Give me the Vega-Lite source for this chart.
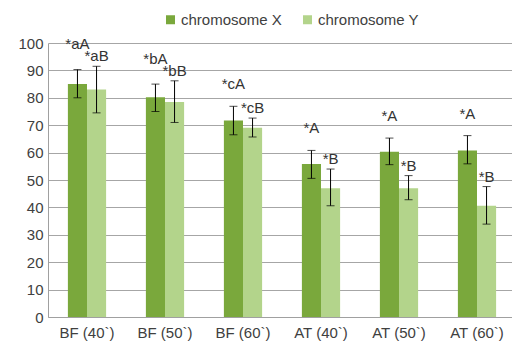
{
  "$schema": "https://vega.github.io/schema/vega-lite/v6.json",
  "width": 464,
  "height": 274,
  "autosize": {"type": "none"},
  "padding": {"left": 48, "top": 43, "right": 0, "bottom": 30},
  "background": "white",
  "config": {
    "font": "Liberation Sans",
    "view": {"stroke": null},
    "axis": {"labelColor": "#404040", "labelFontSize": 15, "domainColor": "#a0a0a0", "gridColor": "#a6a6a6", "ticks": false, "title": null},
    "axisY": {"tickCount": 10, "labelOverlap": false, "labelPadding": 5, "grid": true}
  },
  "data": {
    "values": [
      {"group": "BF (40`)", "chromosome": "chromosome X", "value": 85.0, "lo": 80.0, "hi": 90.3, "label": "*aA"},
      {"group": "BF (40`)", "chromosome": "chromosome Y", "value": 83.0, "lo": 74.5, "hi": 91.5, "label": "*aB"},
      {"group": "BF (50`)", "chromosome": "chromosome X", "value": 80.2, "lo": 75.0, "hi": 85.0, "label": "*bA"},
      {"group": "BF (50`)", "chromosome": "chromosome Y", "value": 78.5, "lo": 71.0, "hi": 86.2, "label": "*bB"},
      {"group": "BF (60`)", "chromosome": "chromosome X", "value": 71.7, "lo": 66.5, "hi": 76.9, "label": "*cA"},
      {"group": "BF (60`)", "chromosome": "chromosome Y", "value": 69.1, "lo": 65.7, "hi": 72.6, "label": "*cB"},
      {"group": "AT (40`)", "chromosome": "chromosome X", "value": 55.8, "lo": 50.6, "hi": 60.8, "label": "*A"},
      {"group": "AT (40`)", "chromosome": "chromosome Y", "value": 47.0, "lo": 40.6, "hi": 54.0, "label": "*B"},
      {"group": "AT (50`)", "chromosome": "chromosome X", "value": 60.3, "lo": 55.6, "hi": 65.3, "label": "*A"},
      {"group": "AT (50`)", "chromosome": "chromosome Y", "value": 47.0, "lo": 42.8, "hi": 51.6, "label": "*B"},
      {"group": "AT (60`)", "chromosome": "chromosome X", "value": 60.8, "lo": 55.9, "hi": 66.2, "label": "*A"},
      {"group": "AT (60`)", "chromosome": "chromosome Y", "value": 40.6, "lo": 33.9, "hi": 47.6, "label": "*B"}
    ]
  },
  "encoding": {
    "x": {
      "field": "group", "type": "nominal",
      "sort": ["BF (40`)", "BF (50`)", "BF (60`)", "AT (40`)", "AT (50`)", "AT (60`)"],
      "scale": {"range": [0, 468], "paddingInner": 0.51, "paddingOuter": 0.255},
      "axis": {"labelAngle": 0, "labelPadding": 8}
    },
    "xOffset": {"field": "chromosome", "type": "nominal", "sort": ["chromosome X", "chromosome Y"]}
  },
  "layer": [
    {
      "mark": {"type": "bar"},
      "encoding": {
        "y": {"field": "value", "type": "quantitative", "scale": {"domain": [0, 100], "nice": false}, "axis": {"tickCount": 10, "labelOverlap": false}},
        "color": {
          "field": "chromosome", "type": "nominal",
          "scale": {"domain": ["chromosome X", "chromosome Y"], "range": ["#7aa83c", "#b3d48b"]},
          "legend": {"orient": "none", "legendX": 115, "legendY": -31, "direction": "horizontal", "title": null, "symbolType": "square", "symbolSize": 81, "symbolStrokeWidth": 0, "labelFontSize": 15, "labelColor": "#404040", "labelOffset": 3, "columnPadding": 18, "padding": 0}
        }
      }
    },
    {
      "mark": {"type": "rule", "color": "black", "strokeWidth": 1},
      "encoding": {"y": {"field": "lo", "type": "quantitative"}, "y2": {"field": "hi"}}
    },
    {
      "mark": {"type": "tick", "color": "black", "size": 8, "thickness": 1},
      "encoding": {"y": {"field": "hi", "type": "quantitative"}}
    },
    {
      "mark": {"type": "tick", "color": "black", "size": 8, "thickness": 1},
      "encoding": {"y": {"field": "lo", "type": "quantitative"}}
    },
    {
      "transform": [
        {"joinaggregate": [{"op": "max", "field": "hi", "as": "grouptop"}], "groupby": ["group"]},
        {"filter": "datum.chromosome === 'chromosome X'"}
      ],
      "mark": {"type": "text", "baseline": "bottom", "dy": -14, "fontSize": 15, "color": "#333333"},
      "encoding": {"y": {"field": "grouptop", "type": "quantitative"}, "text": {"field": "label"}}
    },
    {
      "transform": [{"filter": "datum.chromosome === 'chromosome Y'"}],
      "mark": {"type": "text", "baseline": "bottom", "dy": -2, "fontSize": 15, "color": "#333333"},
      "encoding": {"y": {"field": "hi", "type": "quantitative"}, "text": {"field": "label"}}
    }
  ]
}
